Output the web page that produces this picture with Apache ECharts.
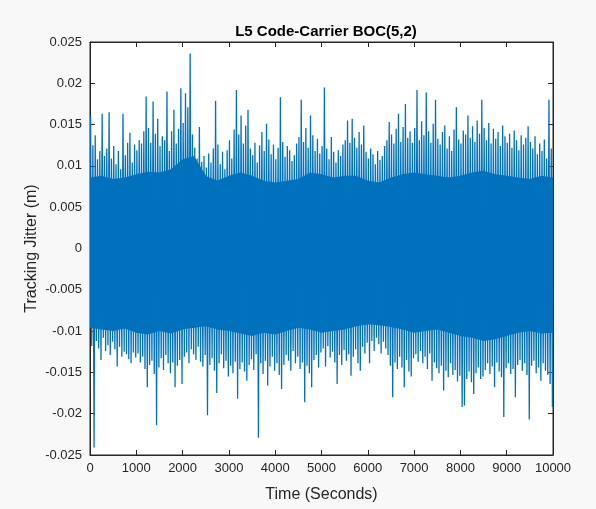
<!DOCTYPE html>
<html>
<head>
<meta charset="utf-8">
<script src="https://cdn.jsdelivr.net/npm/echarts@6/dist/echarts.min.js"></script>
<style>
html,body{margin:0;padding:0;background:#f8f8f8;}
#chart{width:596px;height:509px;}
</style>
</head>
<body>
<div id="chart"></div>
<script>
// Title and axis names
const titleText = "L5 Code-Carrier BOC(5,2)";
const xName = "Time (Seconds)";
const yName = "Tracking Jitter (m)";

// Envelope: one 50-second bin per entry (200 bins, 0..10000 s)
const binWidth = 50;
// Highest value reached in each bin
const binMax = [
  0.0160,0.0125,0.0137,0.0108,0.0118,0.0163,0.0112,0.0121,0.0165,0.0109,
  0.0124,0.0102,0.0118,0.0096,0.0163,0.0113,0.0128,0.0140,0.0104,0.0126,
  0.0119,0.0131,0.0127,0.0142,0.0184,0.0146,0.0128,0.0178,0.0139,0.0157,
  0.0124,0.0136,0.0131,0.0190,0.0118,0.0142,0.0168,0.0127,0.0145,0.0194,
  0.0152,0.0188,0.0171,0.0236,0.0138,0.0122,0.0109,0.0147,0.0105,0.0112,
  0.0098,0.0115,0.0104,0.0121,0.0179,0.0126,0.0102,0.0117,0.0096,0.0119,
  0.0131,0.0109,0.0144,0.0192,0.0138,0.0161,0.0127,0.0149,0.0168,0.0121,
  0.0113,0.0128,0.0104,0.0125,0.0141,0.0118,0.0151,0.0132,0.0114,0.0126,
  0.0108,0.0122,0.0183,0.0129,0.0111,0.0124,0.0119,0.0106,0.0113,0.0127,
  0.0135,0.0180,0.0129,0.0146,0.0122,0.0161,0.0137,0.0118,0.0133,0.0115,
  0.0124,0.0195,0.0121,0.0108,0.0135,0.0117,0.0104,0.0119,0.0112,0.0126,
  0.0131,0.0155,0.0128,0.0157,0.0134,0.0122,0.0141,0.0126,0.0149,0.0117,
  0.0109,0.0121,0.0114,0.0102,0.0118,0.0107,0.0112,0.0124,0.0131,0.0153,
  0.0138,0.0127,0.0145,0.0163,0.0129,0.0147,0.0175,0.0134,0.0142,0.0128,
  0.0146,0.0192,0.0131,0.0154,0.0137,0.0189,0.0142,0.0128,0.0151,0.0180,
  0.0133,0.0126,0.0141,0.0149,0.0121,0.0136,0.0118,0.0144,0.0171,0.0132,
  0.0127,0.0143,0.0138,0.0161,0.0134,0.0148,0.0129,0.0155,0.0139,0.0180,
  0.0146,0.0131,0.0152,0.0127,0.0145,0.0133,0.0141,0.0124,0.0149,0.0136,
  0.0128,0.0139,0.0122,0.0143,0.0131,0.0119,0.0137,0.0126,0.0134,0.0148,
  0.0129,0.0121,0.0136,0.0114,0.0127,0.0118,0.0132,0.0109,0.0180,0.0121
];
// Lowest value reached in each bin
const binMin = [
  -0.0118,-0.0241,-0.0112,-0.0121,-0.0135,-0.0108,-0.0124,-0.0117,-0.0129,-0.0113,
  -0.0122,-0.0143,-0.0119,-0.0131,-0.0125,-0.0128,-0.0134,-0.0139,-0.0126,-0.0132,
  -0.0127,-0.0138,-0.0131,-0.0146,-0.0168,-0.0141,-0.0136,-0.0152,-0.0214,-0.0144,
  -0.0133,-0.0147,-0.0129,-0.0139,-0.0151,-0.0138,-0.0168,-0.0142,-0.0135,-0.0164,
  -0.0131,-0.0126,-0.0139,-0.0122,-0.0128,-0.0135,-0.0119,-0.0137,-0.0143,-0.0129,
  -0.0202,-0.0141,-0.0133,-0.0148,-0.0175,-0.0139,-0.0128,-0.0145,-0.0136,-0.0155,
  -0.0142,-0.0151,-0.0137,-0.0182,-0.0146,-0.0138,-0.0149,-0.0160,-0.0141,-0.0134,
  -0.0147,-0.0128,-0.0229,-0.0139,-0.0152,-0.0136,-0.0166,-0.0143,-0.0131,-0.0148,
  -0.0139,-0.0153,-0.0170,-0.0141,-0.0129,-0.0136,-0.0148,-0.0124,-0.0139,-0.0131,
  -0.0146,-0.0138,-0.0186,-0.0142,-0.0151,-0.0168,-0.0135,-0.0129,-0.0144,-0.0126,
  -0.0121,-0.0143,-0.0118,-0.0132,-0.0125,-0.0138,-0.0164,-0.0129,-0.0141,-0.0123,
  -0.0136,-0.0128,-0.0154,-0.0131,-0.0122,-0.0139,-0.0148,-0.0119,-0.0127,-0.0114,
  -0.0139,-0.0112,-0.0124,-0.0108,-0.0116,-0.0127,-0.0113,-0.0121,-0.0129,-0.0142,
  -0.0180,-0.0138,-0.0146,-0.0131,-0.0144,-0.0168,-0.0135,-0.0149,-0.0155,-0.0133,
  -0.0128,-0.0137,-0.0124,-0.0139,-0.0131,-0.0146,-0.0127,-0.0160,-0.0138,-0.0145,
  -0.0151,-0.0142,-0.0172,-0.0148,-0.0156,-0.0139,-0.0153,-0.0147,-0.0161,-0.0154,
  -0.0192,-0.0190,-0.0158,-0.0149,-0.0162,-0.0176,-0.0151,-0.0144,-0.0158,-0.0155,
  -0.0147,-0.0139,-0.0152,-0.0143,-0.0168,-0.0138,-0.0149,-0.0156,-0.0204,-0.0145,
  -0.0139,-0.0152,-0.0146,-0.0180,-0.0141,-0.0135,-0.0148,-0.0139,-0.0153,-0.0207,
  -0.0142,-0.0136,-0.0151,-0.0144,-0.0160,-0.0139,-0.0148,-0.0153,-0.0164,-0.0192
];

// Edges of the solid (dense) part of the trace, one 250-second step per entry (41 edges, 0..10000 s)
const coreWidth = 250;
const coreTop = [
  0.0086,0.0088,0.0084,0.0086,0.0090,0.0093,0.0092,0.0096,0.0108,0.0112,
  0.0088,0.0082,0.0088,0.0092,0.0088,0.0082,0.0080,0.0082,0.0084,0.0092,
  0.0090,0.0086,0.0088,0.0088,0.0082,0.0080,0.0086,0.0090,0.0092,0.0090,
  0.0088,0.0086,0.0088,0.0092,0.0094,0.0090,0.0088,0.0086,0.0084,0.0088,
  0.0086
];
const coreBottom = [
  -0.0096,-0.0098,-0.0100,-0.0097,-0.0102,-0.0104,-0.0100,-0.0103,-0.0098,-0.0096,
  -0.0094,-0.0098,-0.0100,-0.0103,-0.0106,-0.0102,-0.0104,-0.0100,-0.0096,-0.0098,
  -0.0102,-0.0100,-0.0098,-0.0094,-0.0092,-0.0093,-0.0095,-0.0098,-0.0102,-0.0100,
  -0.0098,-0.0102,-0.0106,-0.0108,-0.0112,-0.0110,-0.0106,-0.0102,-0.0100,-0.0103,
  -0.0102
];

// Axis ticks
const xTicks = [0,1000,2000,3000,4000,5000,6000,7000,8000,9000,10000];
const yTicks = [-0.025,-0.02,-0.015,-0.01,-0.005,0,0.005,0.01,0.015,0.02,0.025];

// Build the trace: the signal swings from each bin's peak to its trough
const trace = [];
for (let i = 0; i < binMax.length; i++) {
  trace.push([i * binWidth + binWidth * 0.25, binMax[i]]);
  trace.push([i * binWidth + binWidth * 0.75, binMin[i]]);
}
// Dense core: one segment per step [t0, top0, bottom0, t1, top1, bottom1]
const coreSegs = [];
for (let i = 0; i < coreTop.length - 1; i++) {
  coreSegs.push([i * coreWidth, coreTop[i], coreBottom[i], (i + 1) * coreWidth, coreTop[i + 1], coreBottom[i + 1]]);
}

const axisColor = '#262626';
const lineColor = '#0072BD';
const fontFam = '"Liberation Sans", Arial, Helvetica, sans-serif';
const fmtY = v => String(+(+v).toFixed(3));
const fmtX = v => String(Math.round(v));

const xBase = {
  type: 'value', min: xTicks[0], max: xTicks[xTicks.length-1], interval: 1000,
  axisLine: {show: true, onZero: false, lineStyle: {color: axisColor, width: 1}},
  axisTick: {show: true, inside: true, length: 5, lineStyle: {color: axisColor}},
  splitLine: {show: false}
};
const yBase = {
  type: 'value', min: yTicks[0], max: yTicks[yTicks.length-1], interval: 0.005,
  axisLine: {show: true, onZero: false, lineStyle: {color: axisColor, width: 1}},
  axisTick: {show: true, inside: true, length: 5, lineStyle: {color: axisColor}},
  splitLine: {show: false}
};

function renderCore(params, api) {
  const a = api.coord([api.value(0), api.value(1)]);
  const b = api.coord([api.value(3), api.value(4)]);
  const c = api.coord([api.value(3), api.value(5)]);
  const d = api.coord([api.value(0), api.value(2)]);
  return {
    type: 'polygon',
    shape: {points: [[a[0] - 0.3, a[1]], [b[0] + 0.3, b[1]], [c[0] + 0.3, c[1]], [d[0] - 0.3, d[1]]]},
    style: {fill: lineColor, stroke: null},
    silent: true
  };
}

const chart = echarts.init(document.getElementById('chart'), null, {renderer: 'canvas'});
chart.setOption({
  backgroundColor: '#f8f8f8',
  animation: false,
  title: {
    text: titleText, left: 321, top: 19, textAlign: 'center',
    textStyle: {fontFamily: fontFam, fontWeight: 'bold', fontSize: 15, color: '#000'}
  },
  grid: {
    left: 90, right: 43, top: 42, bottom: 54,
    show: true, backgroundColor: '#ffffff', borderColor: axisColor, borderWidth: 1
  },
  xAxis: [
    Object.assign({}, xBase, {
      position: 'bottom',
      name: xName, nameLocation: 'middle', nameGap: 32, nameMoveOverlap: false,
      nameTextStyle: {fontFamily: fontFam, fontSize: 16, color: axisColor},
      axisLabel: {show: true, fontFamily: fontFam, fontSize: 13, color: axisColor, margin: 7, formatter: fmtX}
    }),
    Object.assign({}, xBase, {position: 'top', axisLabel: {show: false}})
  ],
  yAxis: [
    Object.assign({}, yBase, {
      position: 'left',
      name: yName, nameLocation: 'middle', nameGap: 50, nameRotate: 90, nameMoveOverlap: false,
      nameTextStyle: {fontFamily: fontFam, fontSize: 16, color: axisColor},
      axisLabel: {show: true, fontFamily: fontFam, fontSize: 13, color: axisColor, margin: 8, formatter: fmtY}
    }),
    Object.assign({}, yBase, {position: 'right', axisLabel: {show: false}})
  ],
  series: [
    {
      type: 'custom', data: coreSegs, renderItem: renderCore,
      encode: {x: [0, 3], y: [1, 2, 4, 5]}, silent: true, clip: true
    },
    {
      type: 'line',
      data: trace,
      showSymbol: false,
      sampling: null,
      lineStyle: {color: lineColor, width: 1.3},
      clip: true
    }
  ]
});
</script>
</body>
</html>
